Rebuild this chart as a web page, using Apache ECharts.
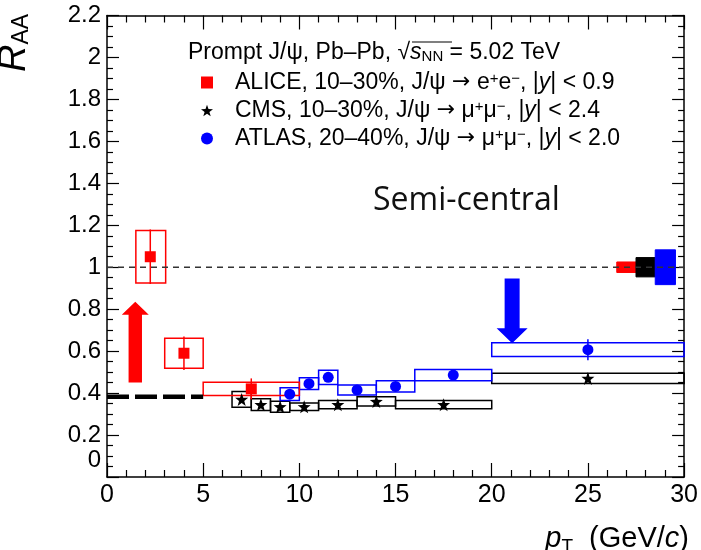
<!DOCTYPE html>
<html>
<head>
<meta charset="utf-8">
<script src="https://cdn.jsdelivr.net/npm/echarts@6/dist/echarts.min.js"></script>
<style>
html,body{margin:0;padding:0;background:#fff;}
#chart{width:701px;height:550px;}
</style>
</head>
<body>
<div id="chart"></div>
<script>
// ---------------- DATA ----------------
const xTicks = [0, 5, 10, 15, 20, 25, 30];
const yTicks = [0, 0.2, 0.4, 0.6, 0.8, 1, 1.2, 1.4, 1.6, 1.8, 2, 2.2];

// ALICE 10-30%, J/psi -> e+e-, |y|<0.9
const alicePt      = [2.25, 4.0, 7.5];
const aliceVal     = [1.05, 0.59, 0.42];
const aliceStat    = [0.13, 0.08, 0.05];
const aliceSysLow  = [1.5, 3.0, 5.0];
const aliceSysHigh = [3.05, 5.0, 10.0];
const aliceSys     = [0.125, 0.072, 0.032];

// CMS 10-30%, J/psi -> mu+mu-, |y|<2.4
const cmsPt      = [7, 8, 9, 10.25, 12, 14, 17.5, 25];
const cmsVal     = [0.37, 0.345, 0.335, 0.335, 0.345, 0.36, 0.345, 0.47];
const cmsStat    = [0.015, 0.012, 0.012, 0.01, 0.01, 0.012, 0.01, 0.02];
const cmsSysLow  = [6.5, 7.5, 8.5, 9.5, 11, 13, 15, 20];
const cmsSysHigh = [7.5, 8.5, 9.5, 11, 13, 15, 20, 30];
const cmsSys     = [0.037, 0.028, 0.026, 0.018, 0.02, 0.022, 0.02, 0.024];

// ATLAS 20-40%, J/psi -> mu+mu-, |y|<2.0
const atlasPt      = [9.5, 10.5, 11.5, 13, 15, 18, 25];
const atlasVal     = [0.395, 0.445, 0.475, 0.415, 0.432, 0.486, 0.607];
const atlasStat    = [0.015, 0.015, 0.02, 0.012, 0.015, 0.02, 0.05];
const atlasSysLow  = [9, 10, 11, 12, 14, 16, 20];
const atlasSysHigh = [10, 11, 12, 14, 16, 20, 30];
const atlasSys     = [0.03, 0.028, 0.034, 0.024, 0.027, 0.027, 0.033];

// global normalisation uncertainties at R_AA = 1 (ALICE, CMS, ATLAS)
const globLow  = [26.5, 27.5, 28.5];
const globHigh = [27.5, 28.5, 29.55];
const globCent = [1, 1, 1];
const globUnc  = [0.025, 0.046, 0.083];

// arrows [pT, from, to]
const redArrow  = [1.47, 0.45, 0.835];
const blueArrow = [21.06, 0.946, 0.637];

// reference lines
const unityX = [0, 30];
const unityY = [1, 1];
const lowPtX = [0, 5];
const lowPtY = [0.382, 0.382];

// ---------------- HELPERS ----------------
const FONT = '"Liberation Sans", Arial, sans-serif';

function boxSeries(name, lows, highs, vals, errs, color, filled, z) {
  const data = lows.map((l, i) => [l, highs[i], vals[i] - errs[i], vals[i] + errs[i]]);
  return {
    type: 'custom', name: name, silent: true, z: z || 2,
    data: data,
    encode: { x: [0, 1], y: [2, 3] },
    renderItem: function (params, api) {
      const p1 = api.coord([api.value(0), api.value(3)]);
      const p2 = api.coord([api.value(1), api.value(2)]);
      return {
        type: 'rect',
        shape: { x: p1[0], y: p1[1], width: p2[0] - p1[0], height: p2[1] - p1[1] },
        style: filled ? { fill: color, stroke: color, lineWidth: 1 } : { fill: 'none', stroke: color, lineWidth: 1.5 }
      };
    }
  };
}

function errSeries(name, xs, vals, errs, color) {
  const data = xs.map((x, i) => [x, vals[i] - errs[i], vals[i] + errs[i]]);
  return {
    type: 'custom', name: name, silent: true, z: 3,
    data: data,
    encode: { x: 0, y: [1, 2] },
    renderItem: function (params, api) {
      const a = api.coord([api.value(0), api.value(1)]);
      const b = api.coord([api.value(0), api.value(2)]);
      return { type: 'line', shape: { x1: a[0], y1: a[1], x2: b[0], y2: b[1] }, style: { stroke: color, lineWidth: 1.5 } };
    }
  };
}

function arrowSeries(name, arrow, color, halfShaft, halfHead, headLen) {
  return {
    type: 'custom', name: name, silent: true, z: 4,
    data: [arrow],
    encode: { x: 0, y: [1, 2] },
    renderItem: function (params, api) {
      const a = api.coord([api.value(0), api.value(1)]);
      const b = api.coord([api.value(0), api.value(2)]);
      const dir = b[1] > a[1] ? 1 : -1;
      const hb = b[1] - dir * headLen;
      const x = a[0];
      return {
        type: 'polygon',
        shape: { points: [[x - halfShaft, a[1]], [x + halfShaft, a[1]], [x + halfShaft, hb], [x + halfHead, hb], [x, b[1]], [x - halfHead, hb], [x - halfShaft, hb]] },
        style: { fill: color }
      };
    }
  };
}

const starPath = 'path://M0,-10L2.35,-3.24L9.51,-3.09L3.8,1.24L5.88,8.09L0,4.2L-5.88,8.09L-3.8,1.24L-9.51,-3.09L-2.35,-3.24Z';

const legendText = {
  'ALICE': '{g|}ALICE, 10–30%, J/ψ {ar|→} e{sup|+}e{sup|−}, |{i|y}| < 0.9',
  'CMS':   '{g|}CMS, 10–30%, J/ψ {ar|→} μ{sup|+}μ{sup|−}, |{i|y}| < 2.4',
  'ATLAS': '{g|}ATLAS, 20–40%, J/ψ {ar|→} μ{sup|+}μ{sup|−}, |{i|y}| < 2.0'
};

function axisCommon(pos, showLabel, isX) {
  return {
    type: 'value', position: pos,
    min: isX ? xTicks[0] : yTicks[0],
    max: isX ? xTicks[xTicks.length - 1] : yTicks[yTicks.length - 1],
    interval: isX ? 5 : 0.2,
    axisLine: { show: true, onZero: false, lineStyle: { color: '#000', width: 1.5 } },
    axisTick: { show: true, inside: true, length: isX ? 14 : 12, lineStyle: { color: '#000', width: 1.2 } },
    minorTick: { show: true, splitNumber: isX ? 5 : 4, length: isX ? 7 : 6, lineStyle: { color: '#000', width: 1.2 } },
    splitLine: { show: false },
    axisLabel: {
      show: showLabel, color: '#000', fontFamily: FONT,
      fontSize: isX ? 25 : 24, margin: isX ? 6 : 6,
      formatter: isX ? null : function (v) { return v === 0 ? '{z|0}' : String(+v.toFixed(1)); },
      rich: { z: { fontSize: 24, fontFamily: FONT, color: '#000', padding: [0, 0, 34, 0] } }
    }
  };
}

// ---------------- CHART ----------------
const chart = echarts.init(document.getElementById('chart'), null, { renderer: 'canvas' });

const option = {
  backgroundColor: '#fff',
  animation: false,
  grid: { left: 107, right: 14, top: 15.5, bottom: 73, containLabel: false },
  xAxis: [axisCommon('bottom', true, true), axisCommon('top', false, true)],
  yAxis: [axisCommon('left', true, false), axisCommon('right', false, false)],
  title: {
    left: 188, top: 41, padding: 0,
    text: 'Prompt J/ψ, Pb–Pb, {r|√}{s|s}{sub|NN} = 5.02 TeV',
    textStyle: {
      fontFamily: FONT, fontSize: 23, fontWeight: 'normal', color: '#000',
      rich: {
        r: { fontFamily: FONT, fontSize: 23, color: '#000' },
        s: { fontFamily: FONT, fontSize: 23, fontStyle: 'italic', color: '#000' },
        sub: { fontFamily: FONT, fontSize: 15, color: '#000', verticalAlign: 'bottom', padding: [8, 0, 0, 0] }
      }
    }
  },
  legend: {
    orient: 'vertical', left: 201, top: 71, padding: 0,
    itemWidth: 12, itemHeight: 12, itemGap: 5,
    selectedMode: false,
    data: [
      { name: 'ALICE', icon: 'rect', itemStyle: { color: '#ff0000', opacity: 1 } },
      { name: 'CMS', icon: starPath, itemStyle: { color: '#000', opacity: 1 } },
      { name: 'ATLAS', icon: 'circle', itemStyle: { color: '#0000ff', opacity: 1 } }
    ],
    formatter: function (name) { return legendText[name]; },
    textStyle: {
      fontFamily: FONT, fontSize: 23, color: '#000', lineHeight: 23,
      rich: {
        g: { width: 17 },
        ar: { fontFamily: '"DejaVu Sans", sans-serif', fontSize: 22, color: '#000', lineHeight: 23 },
        sup: { fontFamily: FONT, fontSize: 15, color: '#000', verticalAlign: 'top', lineHeight: 23 },
        i: { fontFamily: FONT, fontSize: 23, fontStyle: 'italic', color: '#000' }
      }
    }
  },
  graphic: [
    { type: 'line', shape: { x1: 412, y1: 42, x2: 452, y2: 42 }, style: { stroke: '#000', lineWidth: 1.2 } },
    { type: 'text', left: 373, top: 185, style: { text: 'Semi-central', fontFamily: '"Open Sans", sans-serif', fontSize: 32, fill: '#111' } },
    {
      type: 'text', x: 33, y: 72, rotation: Math.PI / 2,
      style: {
        text: '{r|R}{s|AA}', textAlign: 'left', textVerticalAlign: 'bottom',
        rich: {
          r: { fontFamily: FONT, fontSize: 38, fontStyle: 'italic', fill: '#000', lineHeight: 38 },
          s: { fontFamily: FONT, fontSize: 23, fill: '#000', verticalAlign: 'bottom', lineHeight: 38, padding: [14, 0, 0, 0] }
        }
      }
    },
    {
      type: 'text', right: 12, top: 524,
      style: {
        text: '{p|p}{t|T}  (GeV/{c|c})',
        fontFamily: FONT, fontSize: 29, fill: '#000',
        rich: {
          p: { fontFamily: FONT, fontSize: 29, fontStyle: 'italic', fill: '#000' },
          t: { fontFamily: FONT, fontSize: 19, fill: '#000', verticalAlign: 'bottom', padding: [16, 0, 0, 0] },
          c: { fontFamily: FONT, fontSize: 29, fontStyle: 'italic', fill: '#000' }
        }
      }
    }
  ],
  series: [
    // reference lines
    { type: 'line', name: 'unity', silent: true, z: 5, symbol: 'none',
      data: unityX.map((x, i) => [x, unityY[i]]),
      lineStyle: { color: '#333', width: 1.3, type: [6, 5] } },
    { type: 'line', name: 'lowpt', silent: true, z: 5, symbol: 'none',
      data: lowPtX.map((x, i) => [x, lowPtY[i]]),
      lineStyle: { color: '#000', width: 4.5, type: [22, 6] } },
    // global uncertainty boxes
    boxSeries('ALICE glob', [globLow[0]], [globHigh[0]], [globCent[0]], [globUnc[0]], '#ff0000', true, 3),
    boxSeries('CMS glob', [globLow[1]], [globHigh[1]], [globCent[1]], [globUnc[1]], '#000000', true, 3),
    boxSeries('ATLAS glob', [globLow[2]], [globHigh[2]], [globCent[2]], [globUnc[2]], '#0000ff', true, 3),
    // systematic boxes
    boxSeries('CMS sys', cmsSysLow, cmsSysHigh, cmsVal, cmsSys, '#000000', false, 2),
    boxSeries('ATLAS sys', atlasSysLow, atlasSysHigh, atlasVal, atlasSys, '#0000ff', false, 2),
    boxSeries('ALICE sys', aliceSysLow, aliceSysHigh, aliceVal, aliceSys, '#ff0000', false, 2),
    // stat errors
    errSeries('CMS stat', cmsPt, cmsVal, cmsStat, '#000'),
    errSeries('ATLAS stat', atlasPt, atlasVal, atlasStat, '#0000ff'),
    errSeries('ALICE stat', alicePt, aliceVal, aliceStat, '#ff0000'),
    // arrows
    arrowSeries('red arrow', redArrow, '#ff0000', 6.7, 13.5, 13),
    arrowSeries('blue arrow', blueArrow, '#0000ff', 7.5, 15.5, 15),
    // points
    { type: 'scatter', name: 'CMS', z: 6, symbol: starPath, symbolSize: 13,
      itemStyle: { color: '#000', opacity: 1 }, data: cmsPt.map((x, i) => [x, cmsVal[i]]) },
    { type: 'scatter', name: 'ATLAS', z: 6, symbol: 'circle', symbolSize: 11,
      itemStyle: { color: '#0000ff', opacity: 1 }, data: atlasPt.map((x, i) => [x, atlasVal[i]]) },
    { type: 'scatter', name: 'ALICE', z: 6, symbol: 'rect', symbolSize: 11,
      itemStyle: { color: '#ff0000', opacity: 1 }, data: alicePt.map((x, i) => [x, aliceVal[i]]) }
  ]
};
chart.setOption(option);
</script>
</body>
</html>
